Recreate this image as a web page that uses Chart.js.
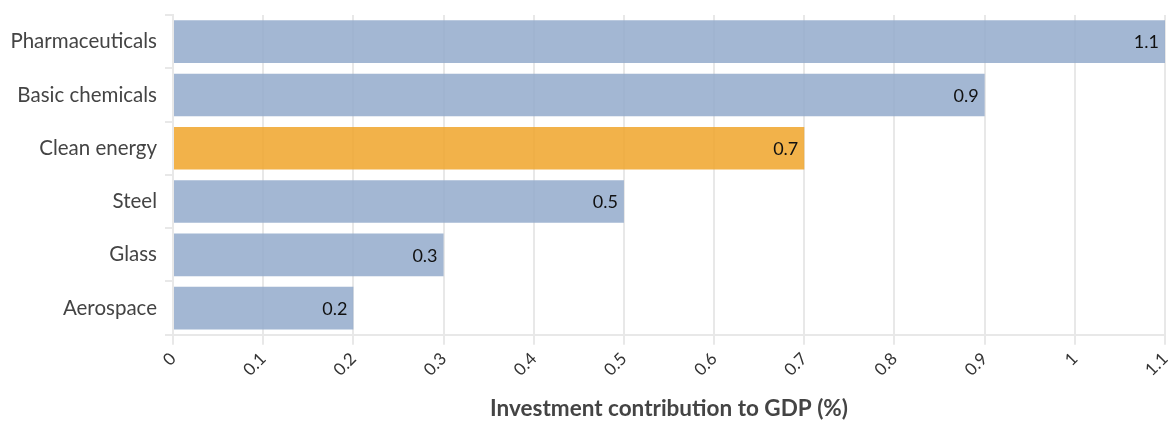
<!DOCTYPE html>
<html><head><meta charset="utf-8">
<script src="https://cdn.jsdelivr.net/npm/chart.js@4"></script>
<style>html,body{margin:0;padding:0;background:#fff}#wrap{width:1175px;height:426px}</style>
</head><body><div id="wrap"><canvas id="c"></canvas></div>
<script>
const categories = ["Pharmaceuticals","Basic chemicals","Clean energy","Steel","Glass","Aerospace"];
const values = [1.1, 0.9, 0.7, 0.5, 0.3, 0.2];
const highlight = "Clean energy";
const xTicks = [0,0.1,0.2,0.3,0.4,0.5,0.6,0.7,0.8,0.9,1,1.1];
const axisTitle = "Investment contribution to GDP (%)";

const FONT = "Lato, 'Open Sans', sans-serif";
const labelPlugin = {
  id: 'barLabels',
  afterDatasetsDraw(chart) {
    const ctx = chart.ctx;
    const meta = chart.getDatasetMeta(0);
    ctx.save();
    ctx.font = "18px " + FONT;
    ctx.fillStyle = "#111";
    ctx.textAlign = "right";
    ctx.textBaseline = "middle";
    meta.data.forEach((bar, i) => {
      ctx.fillText(String(values[i]), bar.x - 6, bar.y + 1);
    });
    ctx.restore();
  }
};

new Chart(document.getElementById('c'), {
  type: 'bar',
  data: {
    labels: categories,
    datasets: [{
      data: values,
      backgroundColor: categories.map(c => c === highlight ? 'rgba(240,164,42,0.85)' : 'rgba(147,170,203,0.85)'),
      borderWidth: 0,
      categoryPercentage: 1,
      barPercentage: 0.8
    }]
  },
  plugins: [labelPlugin],
  options: {
    indexAxis: 'y',
    responsive: true,
    maintainAspectRatio: false,
    animation: false,
    layout: { padding: { top: 15, right: 0, left: 0, bottom: 4 } },
    plugins: { legend: { display: false }, tooltip: { enabled: false } },
    scales: {
      x: {
        type: 'linear', min: 0, max: 1.1,
        afterBuildTicks: (axis) => { axis.ticks = xTicks.map(v => ({ value: v })); },
        afterFit: (s) => { s.paddingRight = 10; s.paddingLeft = 0; },
        grid: { color: '#e8e8e8', lineWidth: 2, tickLength: 10, drawTicks: true },
        border: { color: '#e8e8e8', width: 2 },
        ticks: {
          minRotation: 45, maxRotation: 45, color: '#333', padding: 4,
          font: { family: FONT, size: 17 },
          callback: (v) => String(v)
        },
        title: { display: true, text: axisTitle, color: '#444', font: { family: FONT, size: 22.5, weight: 'bold' }, padding: { top: 11, bottom: 0 } }
      },
      y: {
        afterFit: (s) => { s.width = 173; s.paddingTop = 0; s.paddingBottom = 0; },
        grid: { drawOnChartArea: false, color: '#e8e8e8', lineWidth: 2, tickLength: 8 },
        border: { color: '#e8e8e8', width: 2 },
        ticks: { color: '#444', padding: 8, font: { family: FONT, size: 20.5 } }
      }
    }
  }
});
</script></body></html>
